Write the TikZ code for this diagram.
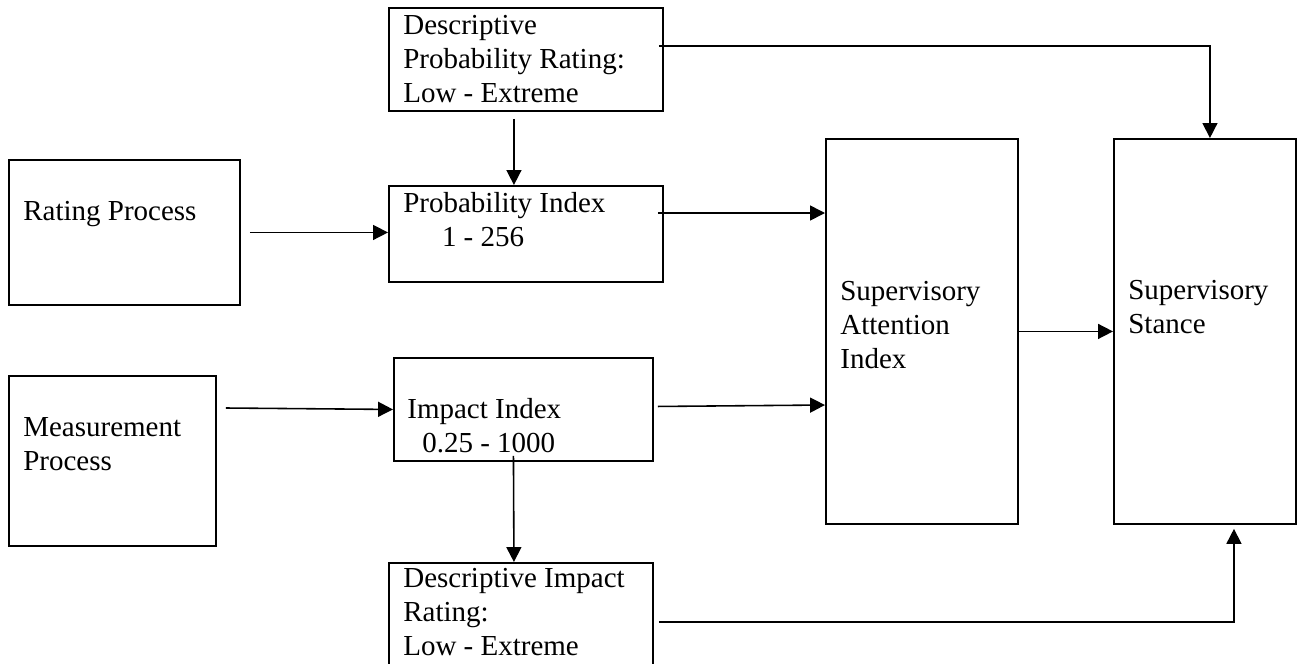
\documentclass[tikz,border=0pt]{standalone}
\usepackage{fontspec}
\setmainfont{Liberation Serif}
\usetikzlibrary{positioning}
\usetikzlibrary{arrows.meta}

\tikzset{
  box/.style={draw, line width=1.1pt, rectangle, inner sep=0pt, anchor=north west},
  txt/.style={anchor=base west, inner sep=0pt, align=left, font=\fontsize{16.5pt}{19.1pt}\selectfont},
  arr/.style={line width=0.9pt, -{Triangle[length=8.5pt, width=8.5pt]}}
}

\begin{document}
\begin{tikzpicture}[x=0.02cm, y=-0.02cm]
			\useasboundingbox (0,0) rectangle (1297,663);
			% Boxes
			\node[box, minimum width=5.48cm, minimum height=2.06cm] (dpr) at (388,7) {};
			\node[box, minimum width=5.48cm, minimum height=1.92cm] (prob) at (388,185) {};
			\node[box, minimum width=4.62cm, minimum height=2.90cm] (rate) at (8,159) {};
			\node[box, minimum width=4.14cm, minimum height=3.40cm] (meas) at (8,375) {};
			\node[box, minimum width=5.18cm, minimum height=2.06cm] (impact) at (393,357) {};
			\node[box, minimum width=5.28cm, minimum height=2.20cm] (dir) at (388,562) {};
			\node[box, minimum width=3.84cm, minimum height=7.70cm] (sai) at (825,138) {};
			\node[box, minimum width=3.64cm, minimum height=7.70cm] (ss) at (1113,138) {};
			% Texts (placed at the baseline of their last line)
			\node[txt] (dprT) at (403,102) {Descriptive\\Probability Rating:\\Low - Extreme};
			\node[txt] (probT) at (403,246) {Probability Index\\\hspace*{22pt}1 - 256};
			\node[txt] (rateT) at (23,220) {Rating Process};
			\node[txt] (measT) at (23,470) {Measurement\\Process};
			\node[txt] (impactT) at (407,452) {Impact Index\\\hspace*{8.5pt}0.25 - 1000};
			\node[txt] (dirT) at (403,655) {Descriptive Impact\\Rating:\\Low - Extreme};
			\node[txt] (saiT) at (840,368) {Supervisory\\Attention\\Index};
			\node[txt] (ssT) at (1128,333) {Supervisory\\Stance};
			% Connections
			\draw[arr] ([shift={(9,0)}]rate.east) -- (rate.east -| prob.west);
			\draw[arr] ([shift={(9,33)}]meas.north east) -- (impact.west);
			\draw[arr] ([shift={(-12,7)}]dpr.south) -- ([shift={(-12,0)}]prob.north);
			\draw[arr] ([shift={(-6,28)}]prob.north east) -- ([shift={(0,75)}]sai.north west);
			\draw[arr] ([shift={(4,-3)}]impact.east) -- ([shift={(0,267)}]sai.north west);
			\draw[arr] (sai.east) -- (ss.west);
			\draw[arr] ([shift={(-5,39)}]dpr.north east) -| ([shift={(5,0)}]ss.north);
			\draw[arr] ([shift={(-10,-6)}]impact.south) -- ([shift={(-7,0)}]dir.north);
			\draw[arr] ([shift={(5,60)}]dir.north east) -| ([shift={(29,4)}]ss.south);
		\end{tikzpicture}
\end{document}
